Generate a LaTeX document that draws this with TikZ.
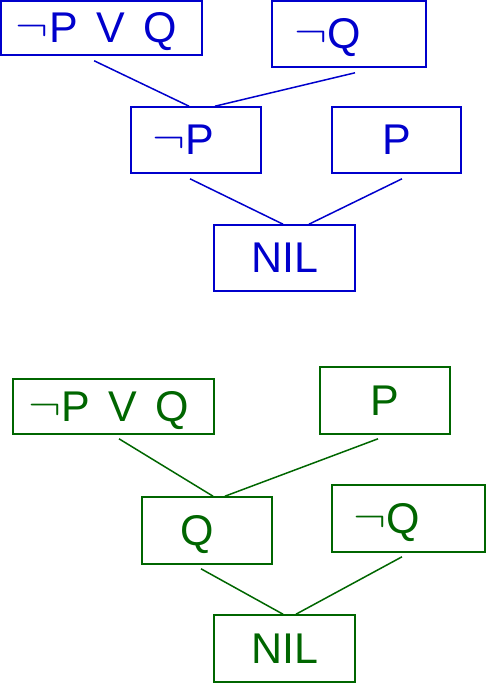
\documentclass[tikz,border=0pt]{standalone}
\usepackage{fix-cm}
\usepackage{fontspec}
\setmainfont{Liberation Sans}
\usetikzlibrary{calc}
\definecolor{resB}{HTML}{0000CC}
\definecolor{resG}{HTML}{006600}
\newcommand{\clnot}{\raisebox{2pt}{\scalebox{1.15}[1]{$\neg$}}\kern1pt}
\newcommand{\clor}{\hspace{4pt} V\hspace{4pt} }
\tikzset{
  clause/.style={draw,line width=1.6pt,inner ysep=0pt,text height=29.5pt,text depth=0pt,
    font=\fontsize{43}{48}\selectfont},
  bclause/.style={clause,draw=resB,text=resB},
  gclause/.style={clause,draw=resG,text=resG},
  lft/.style 2 args={inner xsep=#1,text width=#2,align=left},
  ctr/.style={inner xsep=0pt,minimum width=#1},
  bline/.style={resB,line width=1.5pt},
  gline/.style={resG,line width=1.5pt}}
\begin{document}
\begin{tikzpicture}[x=1pt,y=1pt]
\useasboundingbox (0,0) rectangle (487,683);
% first refutation
\node[bclause,lft={15pt}{171pt},minimum height=54pt] (nPorQ) at (101.5,655) {\clnot P\clor Q};
\node[bclause,lft={22pt}{110pt},minimum height=66pt] (nQ) at (349,649) {\clnot Q};
\node[bclause,lft={21pt}{88pt},minimum height=66pt] (nP) at (196,543) {\clnot P};
\node[bclause,ctr=129pt,minimum height=66pt] (pP) at (396.5,543) {P};
\node[bclause,ctr=141pt,minimum height=66pt] (nil1) at (284.5,425) {NIL};
\draw[bline] ($(nPorQ.south west)+(94,-5)$) -- ($(nP.north)+(-7,0)$);
\draw[bline] ($(nQ.south)+(6,-5)$) -- ($(nP.north)+(19,0)$);
\draw[bline] ($(nP.south)+(-6,-5)$) -- ($(nil1.north)+(-1.5,0)$);
\draw[bline] ($(pP.south)+(5.5,-5)$) -- ($(nil1.north)+(24.5,0)$);
% second refutation
\node[gclause,lft={15pt}{171pt},minimum height=55pt] (gPorQ) at (113.5,276.5) {\clnot P\clor Q};
\node[gclause,ctr=130pt,minimum height=67pt] (gP) at (385,282.5) {P};
\node[gclause,lft={38pt}{54pt},minimum height=67pt] (gQ) at (207,152.5) {Q};
\node[gclause,lft={21pt}{111pt},minimum height=67pt] (gnQ) at (408.5,164.5) {\clnot Q};
\node[gclause,ctr=141pt,minimum height=67pt] (nil2) at (284.5,34.5) {NIL};
\draw[gline] ($(gPorQ.south)+(5.5,-4)$) -- ($(gQ.north)+(6,0)$);
\draw[gline] ($(gP.south)+(-7,-4)$) -- ($(gQ.north)+(18,0)$);
\draw[gline] ($(gQ.south)+(-6,-4)$) -- ($(nil2.north)+(-1.5,0)$);
\draw[gline] ($(gnQ.south)+(-6.5,-4)$) -- ($(nil2.north)+(11.5,0)$);
\end{tikzpicture}
\end{document}
